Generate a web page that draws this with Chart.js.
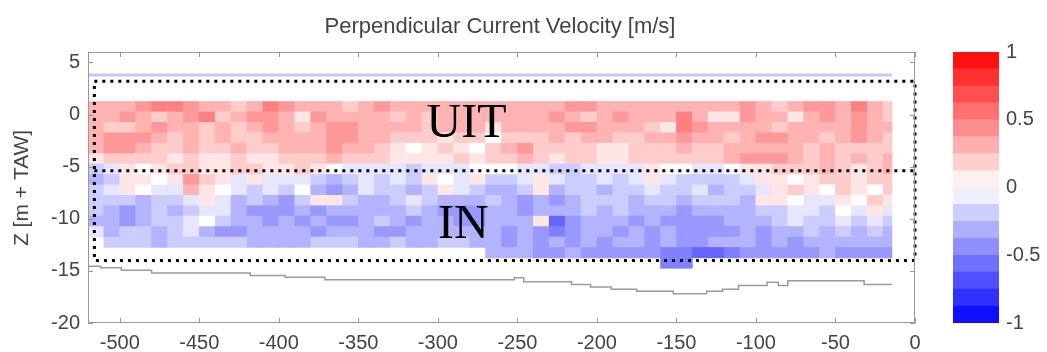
<!DOCTYPE html>
<html>
<head>
<meta charset="utf-8">
<title>Perpendicular Current Velocity</title>
<script src="https://cdn.jsdelivr.net/npm/chart.js@4.4.1/dist/chart.umd.min.js"></script>
<style>
  html, body { margin: 0; background: #fff; }
  #wrap { position: relative; width: 1047px; height: 352px; }
  #main { position: absolute; left: 0; top: 0; }
  #cbar { position: absolute; left: 940px; top: 0; }
</style>
</head>
<body>
<div id="wrap">
  <canvas id="main" width="1047" height="352"></canvas>
  <canvas id="cbar" width="107" height="352"></canvas>
</div>
<script>
// ── transect data ──
// column edges along the transect [m]
const xEdges = [-520, -510, -500, -490, -480, -470, -460, -450, -440, -430, -420, -410, -400,
  -390, -380, -370, -360, -350, -340, -330, -320, -310, -300, -290, -280, -270, -260, -250,
  -240, -230, -220, -210, -200, -190, -180, -170, -160, -150, -140, -130, -120, -110, -100,
  -90, -80, -70, -60, -50, -40, -30, -20, -14.5];
// bin centres [m + TAW], 1 m bins
const rowZ = [0.75, -0.25, -1.25, -2.25, -3.25, -4.25, -5.25, -6.25, -7.25, -8.25,
  -9.25, -10.25, -11.25, -12.25, -13.25, -14.25];
// velocity per bin, one string per row (spaces only for reading)
// '1'..'5' = +0.1..+0.5, 'a'..'f' = -0.1..-0.6, '0' = 0, '.' = no data
const velRows = [
  '3334554332354 3332343333333 333344333333 3334323443532',
  '3343234523443 1433332323333 333432343335 3114331343432',
  '3223433232343 2344333323331 333344333215 4333323333433',
  '3444323232233 3344332221220 222323322334 3323443323432',
  '3443223223223 3343321012102 342222112223 2233333232222',
  '1222212112112 2232221111212 232122112222 2234443232323',
  'ba10122112211 210aaaabaaa00 0aabbaaaa100 aa01122232123',
  'cb1101421a1aa abcbabab10a1b ba1abbaba1ab bbba110122122',
  'ba10aa310abab 0cdcabbcb1abc cb1cbbcbbabb acbba12102102',
  'bbbcbba1acbcd b11bccbabcccb cdcdcbbbcbbc bbbc110aa1021',
  'bcdcbcbaacddd cdcccccbcdddc cdcccbcbcccd ccccbbaab0a1a',
  'ccdcbba0bccdc dcddcbcdccddc cc1fdcccdcdd ddcccbabbabab',
  'acbbcbacddccc cdcccddcccccc dcdedccdcdcd dddcdccbcbcbc',
  '.bbbcbbbbbccc cbbbccbccbbcc dcdcdcdccdcd dcccdcdcccccc',
  '............. ............c ccddcdddddee ffedddddcdddd',
  '............. ............. ..........ee .............'
];
const velCode = { '6': 0.6, '5': 0.5, '4': 0.4, '3': 0.3, '2': 0.2, '1': 0.1, '0': 0,
  a: -0.1, b: -0.2, c: -0.3, d: -0.4, e: -0.5, f: -0.6 };

// water surface bin and bed level
const surfaceX = [-520, -14.5];
const surfaceZ = [3.8, 3.8];
const bedX = [-520, -512, -499, -480, -418, -396, -371, -252, -246, -216, -204, -191,
  -175, -152, -131, -121, -111, -93, -86, -80, -32, -14.5];
const bedZ = [-14.55, -14.7, -14.95, -15.2, -15.45, -15.6, -15.85, -15.65, -16.05, -16.3,
  -16.55, -16.75, -16.95, -17.2, -16.95, -16.75, -16.4, -16.1, -16.4, -15.95, -16.3, -16.3];

// dotted zones
const boxX = [-516, 0, 0, -516, -516];
const boxZ = [3.2, 3.2, -14, -14, 3.2];
const splitX = [-516, 0];
const splitZ = [-5.4, -5.4];
const zoneLabels = [
  { text: 'UIT', x: -282, z: -2.15 },
  { text: 'IN', x: -284, z: -11.85 }
];

// colour bar levels
const cbEdges = [-1, -0.875, -0.75, -0.625, -0.5, -0.375, -0.25, -0.125, 0,
  0.125, 0.25, 0.375, 0.5, 0.625, 0.75, 0.875, 1];

const SANS = '"Liberation Sans", Arial, sans-serif';

function bwr(v) {
  const t = Math.max(-1, Math.min(1, v));
  if (t >= 0) {
    const c = Math.round(255 * (1 - t));
    return `rgb(255,${c},${c})`;
  }
  const c = Math.round(255 * (1 + t));
  return `rgb(${c},${c},255)`;
}

const cells = [];
const cellColors = [];
velRows.forEach((row, r) => {
  [...row.replace(/\s/g, '')].forEach((ch, c) => {
    if (ch === '.') return;
    const v = velCode[ch];
    cells.push({ x: [xEdges[c], xEdges[c + 1]], y: rowZ[r], v });
    cellColors.push(bwr(v));
  });
});

const pts = (xs, zs) => xs.map((x, i) => ({ x, y: zs[i] }));

// box, inward ticks, title, axis label and zone names
const framePlugin = {
  id: 'frame',
  afterDraw(chart) {
    const { ctx, chartArea: a, scales: { x, y } } = chart;
    ctx.save();
    ctx.strokeStyle = '#999';
    ctx.lineWidth = 1;
    ctx.strokeRect(a.left + 0.5, a.top + 0.5, a.right - a.left - 1, a.bottom - a.top - 1);
    ctx.beginPath();
    x.ticks.forEach(t => {
      const px = Math.round(x.getPixelForValue(t.value)) + 0.5;
      ctx.moveTo(px, a.bottom); ctx.lineTo(px, a.bottom - 5);
      ctx.moveTo(px, a.top); ctx.lineTo(px, a.top + 5);
    });
    y.ticks.forEach(t => {
      const py = Math.round(y.getPixelForValue(t.value)) + 0.5;
      ctx.moveTo(a.left, py); ctx.lineTo(a.left + 5, py);
      ctx.moveTo(a.right, py); ctx.lineTo(a.right - 5, py);
    });
    ctx.stroke();

    ctx.fillStyle = '#000';
    ctx.textAlign = 'center';
    ctx.textBaseline = 'alphabetic';
    ctx.font = '48px "Liberation Serif", "Times New Roman", serif';
    zoneLabels.forEach(l => ctx.fillText(l.text, x.getPixelForValue(l.x), y.getPixelForValue(l.z)));

    ctx.fillStyle = '#444';
    ctx.font = '22px ' + SANS;
    ctx.fillText('Perpendicular Current Velocity [m/s]', 500, 33);

    ctx.font = '21px ' + SANS;
    ctx.translate(28, 188);
    ctx.rotate(-Math.PI / 2);
    ctx.fillText('Z [m + TAW]', 0, 0);
    ctx.restore();
  }
};

const tickFont = { family: SANS, size: 20 };

new Chart(document.getElementById('main'), {
  type: 'bar',
  data: {
    datasets: [
      {
        type: 'line', data: pts(boxX, boxZ), borderColor: '#000', borderWidth: 3,
        borderDash: [3, 5], borderCapStyle: 'butt', pointRadius: 0, clip: false, order: 0
      },
      {
        type: 'line', data: pts(splitX, splitZ), borderColor: '#000', borderWidth: 3,
        borderDash: [3, 5], borderCapStyle: 'butt', pointRadius: 0, clip: false, order: 0
      },
      {
        type: 'line', data: pts(bedX, bedZ), borderColor: '#9a9a9a', borderWidth: 1.5,
        stepped: 'before', pointRadius: 0, order: 1
      },
      {
        type: 'line', data: pts(surfaceX, surfaceZ), borderColor: 'rgb(198,198,252)',
        borderWidth: 3, pointRadius: 0, order: 1
      },
      {
        type: 'bar', indexAxis: 'y', data: cells, backgroundColor: cellColors,
        borderWidth: 0, barPercentage: 1, categoryPercentage: 1, order: 5
      }
    ]
  },
  options: {
    responsive: false,
    animation: false,
    layout: { padding: { left: 0, top: 52, right: 132, bottom: 0 } },
    plugins: { legend: { display: false }, tooltip: { enabled: false } },
    scales: {
      x: {
        type: 'linear', min: -520, max: 0, offset: false,
        grid: { display: false, drawTicks: false, offset: false }, border: { display: false },
        ticks: { stepSize: 50, includeBounds: false, padding: 8, color: '#444', font: tickFont,
          maxRotation: 0, autoSkip: false },
        afterFit: s => { s.height = 29; }
      },
      y: {
        type: 'linear', min: -20, max: 6, offset: false,
        grid: { display: false, drawTicks: false, offset: false }, border: { display: false },
        ticks: { stepSize: 5, includeBounds: false, padding: 8, color: '#444', font: tickFont },
        afterFit: s => { s.width = 88; }
      }
    }
  },
  plugins: [framePlugin]
});

// colour bar
new Chart(document.getElementById('cbar'), {
  type: 'bar',
  data: {
    labels: [''],
    datasets: cbEdges.slice(0, -1).map((lo, i) => ({
      data: [[lo, cbEdges[i + 1]]],
      backgroundColor: bwr((lo + cbEdges[i + 1]) / 2),
      borderWidth: 0, barPercentage: 1, categoryPercentage: 1, grouped: false
    }))
  },
  options: {
    responsive: false,
    animation: false,
    layout: { padding: { left: 13, top: 52, right: 0, bottom: 29 } },
    plugins: { legend: { display: false }, tooltip: { enabled: false } },
    scales: {
      x: { display: false },
      y: {
        position: 'right', min: -1, max: 1, offset: false,
        grid: { display: false, drawTicks: false }, border: { display: false },
        ticks: { stepSize: 0.5, padding: 7, color: '#444', font: tickFont,
          callback: v => String(v) },
        afterFit: s => { s.width = 48; }
      }
    }
  }
});
</script>
</body>
</html>
